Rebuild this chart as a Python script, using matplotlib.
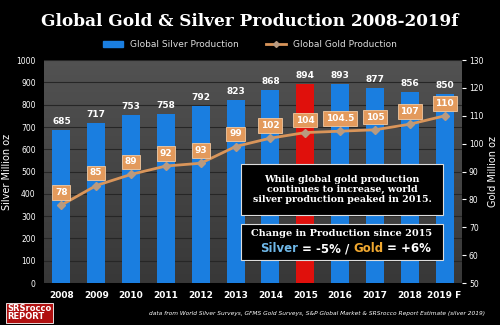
import matplotlib.pyplot as plt
import numpy as np

years = ['2008', '2009', '2010', '2011', '2012', '2013', '2014', '2015', '2016', '2017', '2018', '2019 F']
silver = [685, 717, 753, 758, 792, 823, 868, 894, 893, 877, 856, 850]
gold = [78, 85, 89, 92, 93, 99, 102, 104, 104.5, 105, 107, 110]
gold_labels = ['78', '85', '89', '92', '93', '99', '102', '104', '104.5', '105', '107', '110']
silver_ticks = [0, 100, 200, 300, 400, 500, 600, 700, 800, 900, 1000]
gold_ticks = [50, 60, 70, 80, 90, 100, 110, 120, 130]

fig = plt.figure(figsize=(5, 3.25), dpi=100, facecolor='black')
ax = fig.add_axes([0.088, 0.129, 0.836, 0.686])
ax.set_facecolor('#3c3c3c')

# dark gradient background for plot area
g = np.linspace(0.22, 0.32, 100)
grad = np.dstack([g, g, g]).reshape(100, 1, 3)
ax.imshow(grad, extent=[-0.5, 11.5, 0, 1000], aspect='auto', origin='lower', zorder=0)

x = np.arange(len(years))
colors = ['#1a7ee0'] * len(years)
colors[7] = '#e0100c'
ax.bar(x, silver, width=0.52, color=colors, zorder=2)
for i, v in enumerate(silver):
    ax.text(i, v + 18, str(v), color='white', ha='center', va='bottom',
            fontsize=6.5, fontweight='bold', zorder=5)

ax.set_xlim(-0.5, 11.5)
ax.set_ylim(0, 1000)
ax.set_yticks(silver_ticks)
ax.set_xticks(x)
ax.set_xticklabels(years, color='white', fontsize=6.5, fontweight='bold')
ax.tick_params(axis='y', colors='white', labelsize=5.5, length=0, pad=6)
ax.tick_params(axis='x', length=0, pad=6)
ax.grid(axis='y', color='#262626', linewidth=0.8, zorder=1)
for s in ax.spines.values():
    s.set_visible(False)
ax.set_ylabel('Silver Million oz', color='white', fontsize=7, labelpad=3)

ax2 = ax.twinx()
ax2.plot(x, gold, color='#d9955a', linewidth=2, marker='D', markersize=4,
         markerfacecolor='#b89a80', markeredgecolor='#b89a80', zorder=4)
ax2.set_ylim(50, 130)
ax2.set_yticks(gold_ticks)
ax2.tick_params(axis='y', colors='white', labelsize=5.5, length=3, pad=2)
for s in ax2.spines.values():
    s.set_visible(False)
ax2.set_ylabel('Gold Million oz', color='white', fontsize=7, labelpad=3)
for i, (gv, lab) in enumerate(zip(gold, gold_labels)):
    ax2.text(i, gv + 4.5, lab, color='white', ha='center', va='center', fontsize=6.5,
             fontweight='bold', zorder=6,
             bbox=dict(boxstyle='square,pad=0.3', facecolor='#e39a5c', edgecolor='#f3c9a0', linewidth=0.6))

# annotation boxes
fig.patches.append(plt.Rectangle((0.482, 0.338), 0.404, 0.157, transform=fig.transFigure,
                                 facecolor='black', edgecolor='#dddddd', linewidth=0.8))
fig.patches.append(plt.Rectangle((0.482, 0.2), 0.404, 0.111, transform=fig.transFigure,
                                 facecolor='black', edgecolor='#dddddd', linewidth=0.8))
fig.text(0.684, 0.417, 'While global gold production\ncontinues to increase, world\nsilver production peaked in 2015.',
         color='white', ha='center', va='center', fontsize=6.8, fontweight='bold',
         family='DejaVu Serif', linespacing=1.1)
fig.text(0.684, 0.283, 'Change in Production since 2015', color='white', ha='center', va='center',
         fontsize=7, fontweight='bold', family='DejaVu Serif')
fig.text(0.52, 0.235, 'Silver', color='#6fb8e8', ha='left', va='center', fontsize=8.5, fontweight='bold')
fig.text(0.604, 0.235, '= -5% /', color='white', ha='left', va='center', fontsize=8.5, fontweight='bold')
fig.text(0.706, 0.235, 'Gold', color='#f0a830', ha='left', va='center', fontsize=8.5, fontweight='bold')
fig.text(0.774, 0.235, '= +6%', color='white', ha='left', va='center', fontsize=8.5, fontweight='bold')

# title and legend
fig.text(0.5, 0.935, 'Global Gold & Silver Production 2008-2019f', color='white', ha='center',
         va='center', fontsize=12.2, fontweight='bold', family='DejaVu Serif')
h1 = plt.Rectangle((0, 0), 1, 1, color='#1a7ee0')
h2, = plt.plot([], [], color='#d9955a', marker='D', markersize=3, linewidth=2,
               markerfacecolor='#b89a80', markeredgecolor='#b89a80')
fig.legend([h1, h2], ['Global Silver Production', 'Global Gold Production'], loc='center',
           bbox_to_anchor=(0.5, 0.862), ncol=2, frameon=False, fontsize=6.5,
           labelcolor='#dddddd', handlelength=2.2, columnspacing=3)

# footer
fig.text(0.015, 0.038, 'SRSrocco\nREPORT', color='white', fontsize=6, fontweight='bold',
         va='center', linespacing=0.85,
         bbox=dict(boxstyle='square,pad=0.2', facecolor='#b01010', edgecolor='white', linewidth=0.6))
fig.text(0.97, 0.035, 'data from World Silver Surveys, GFMS Gold Surveys, S&P Global Market & SRSrocco Report Estimate (silver 2019)',
         color='white', fontsize=4.2, style='italic', ha='right', va='center')

fig.savefig('out.png', dpi=100, facecolor='black')
